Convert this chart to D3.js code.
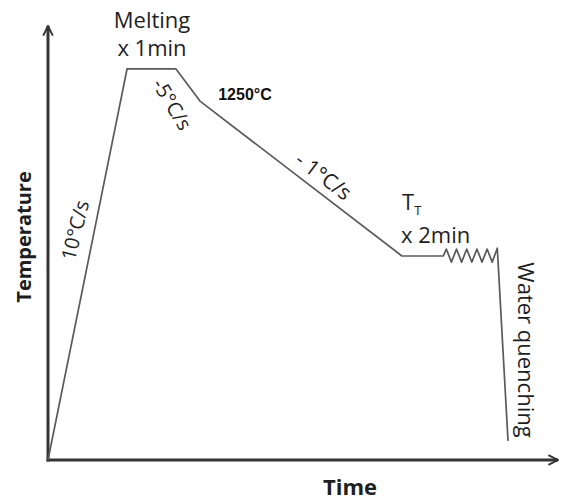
<!DOCTYPE html>
<html>
<head>
<meta charset="utf-8">
<script src="https://cdn.jsdelivr.net/npm/d3@7.9.0/dist/d3.min.js"></script>
<style>
  body { margin: 0; background: #fff; }
  svg { font-family: "Open Sans", "DejaVu Sans", sans-serif; }
</style>
</head>
<body>
<svg id="chart" width="561" height="500"></svg>
<script>
// heat treatment profile, arbitrary units (0-100 on both axes)
const timePts = [0, 15.5, 25.1, 29.8, 69.4, 77.5,
  78.1, 79.1, 80.1, 81.1, 82.1, 83.1, 84.1, 85.1, 86.1, 87.1, 88.1, 90.2];
const tempPts = [0, 90.1, 90.1, 82.7, 47.0, 47.0,
  48.6, 45.6, 48.6, 45.6, 48.6, 45.6, 48.6, 45.6, 48.6, 45.6, 48.8, 4.4];

const labels = ["Melting", "x 1min", "-5°C/s", "1250°C", "- 1°C/s", "x 2min", "Water quenching", "10°C/s"];
const axisLabels = ["Temperature", "Time"];

const svg = d3.select('#chart');

let x = d3.scaleLinear().domain([0, 100]).range([48, 558]);
let y = d3.scaleLinear().domain([0, 100]).range([460, 26]);

// arrow heads
const defs = svg.append('defs');
defs.append('marker')
  .attr('id', 'arrow')
  .attr('viewBox', '0 0 10 10')
  .attr('refX', 9).attr('refY', 5)
  .attr('markerWidth', 4).attr('markerHeight', 4)
  .attr('orient', 'auto')
  .append('path')
  .attr('d', 'M1,1 L9,5 L1,9')
  .attr('fill', 'none')
  .attr('stroke', '#333')
  .attr('stroke-width', 1.6);

// axes, no ticks
let xAxis = svg.append('g')
  .attr('transform', `translate(0,${y(0)})`)
  .call(d3.axisBottom(x).ticks(0).tickSize(0).tickSizeOuter(0));
let yAxis = svg.append('g')
  .attr('transform', `translate(${x(0)},0)`)
  .call(d3.axisLeft(y).ticks(0).tickSize(0).tickSizeOuter(0));

[xAxis, yAxis].forEach((g) => {
  g.select('.domain')
    .attr('stroke', '#353535')
    .attr('stroke-width', 3)
    .attr('marker-end', 'url(#arrow)');
});
// redraw domain so the arrow sits at the far end
yAxis.select('.domain').attr('d', `M0,${y(0) + 1.5}V${y(100)}`);
xAxis.select('.domain').attr('d', `M-1.5,0H${x(100) - x(0)}`).attr('transform', `translate(${x(0)},0)`);

// the profile line
let line = d3.line()
  .x((d, i) => x(timePts[i]))
  .y((d, i) => y(tempPts[i]));

svg.append('path')
  .datum(timePts)
  .attr('d', line)
  .attr('fill', 'none')
  .attr('stroke', '#5a5a5a')
  .attr('stroke-width', 1.7)
  .attr('stroke-linejoin', 'round');

// text annotations
const txt = (s, px, py, opts = {}) => {
  let t = svg.append('text')
    .attr('x', px).attr('y', py)
    .attr('text-anchor', opts.anchor || 'middle')
    .attr('font-size', opts.size || 20)
    .attr('font-weight', opts.weight || 'normal')
    .attr('fill', opts.fill || '#1e1e1e')
    .text(s);
  if (opts.rot) t.attr('transform', `rotate(${opts.rot},${px},${py})`);
  return t;
};

txt(labels[0], 152, 28, { size: 22 });
txt(labels[1], 152, 56, { size: 22 });
txt(labels[2], 166, 108, { size: 20, rot: 59 });
txt(labels[3], 245, 100, { size: 16, weight: 'bold', fill: '#111' }).attr('font-family', 'Liberation Sans, Arial, sans-serif');
txt(labels[4], 319, 182, { size: 21, rot: 37 });

// T with subscript T
let tt = svg.append('text').attr('x', 402).attr('y', 210).attr('font-size', 22).attr('fill', '#1e1e1e');
tt.append('tspan').text('T');
tt.append('tspan').attr('font-size', 13).attr('dy', 5).text('T');
txt(labels[5], 401, 243, { size: 22, anchor: 'start' });

txt(labels[6], 518, 350, { size: 22, rot: 90 });
txt(labels[7], 82, 232, { size: 20, rot: -76 });

// axis titles
txt(axisLabels[0], 31, 237, { size: 20, weight: 'bold', rot: -90 });
txt(axisLabels[1], 350, 495, { size: 22, weight: 'bold' });
</script>
</body>
</html>
